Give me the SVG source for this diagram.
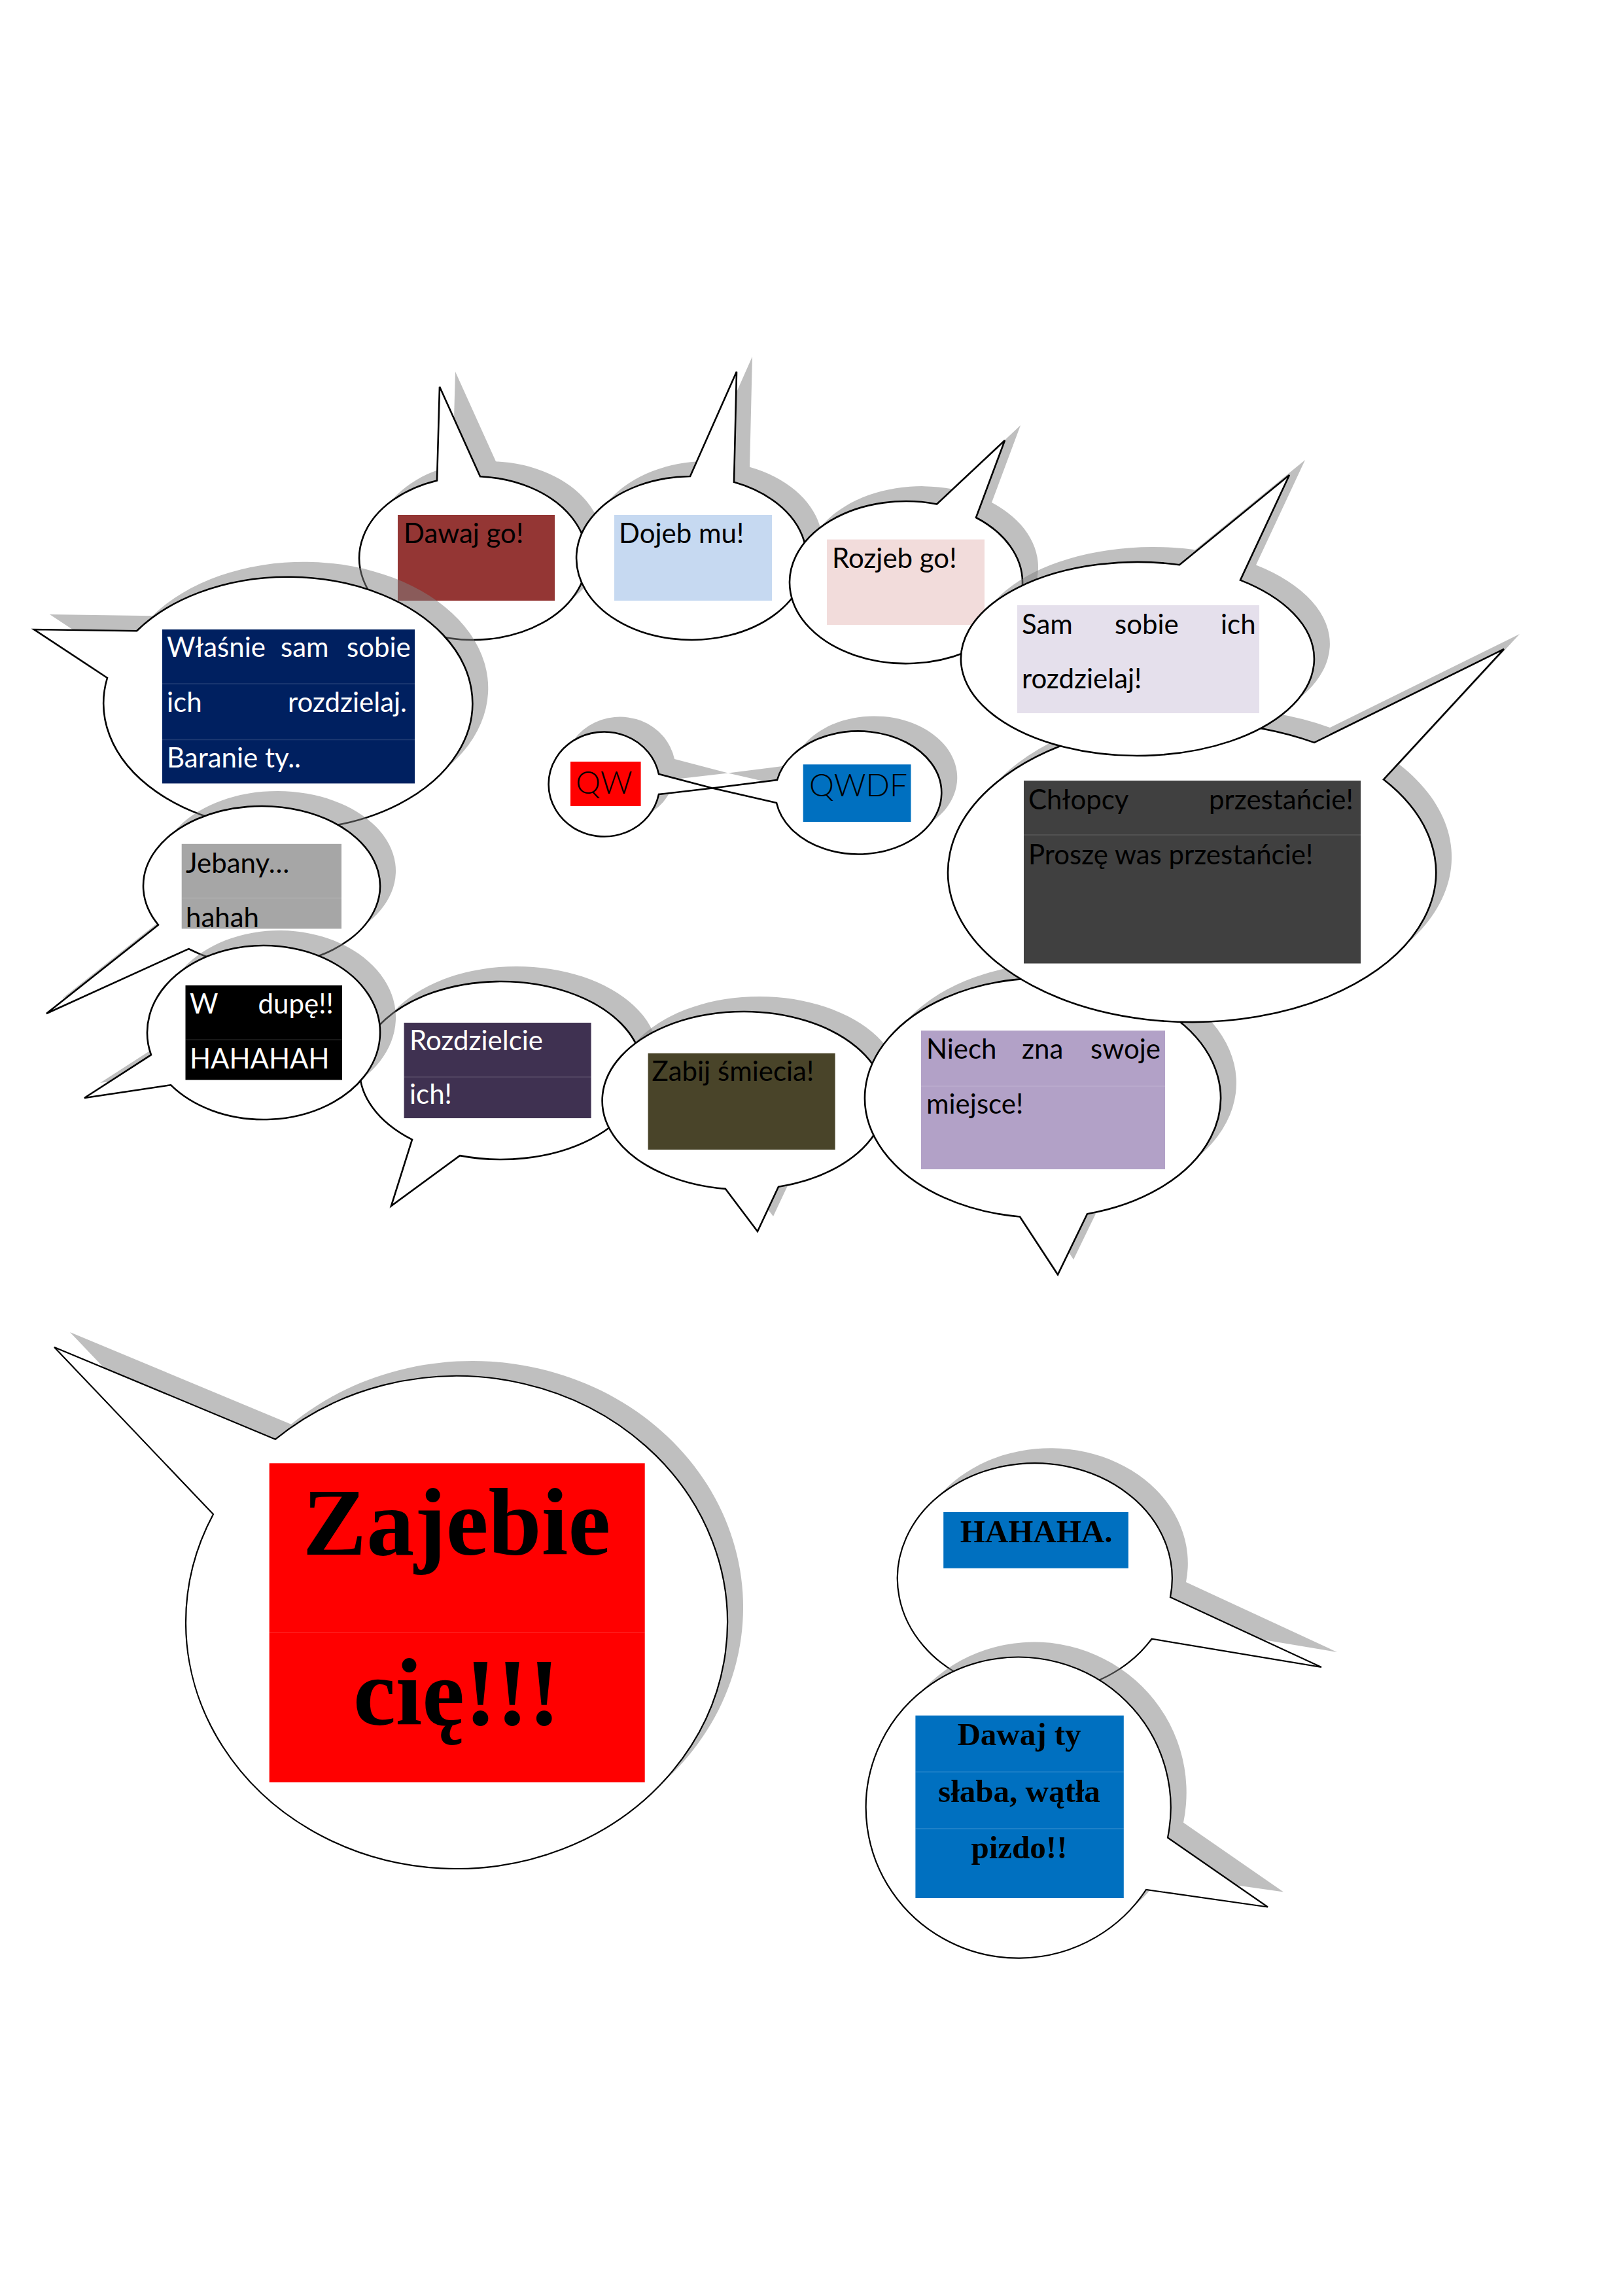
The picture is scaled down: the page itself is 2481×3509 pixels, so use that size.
<svg xmlns="http://www.w3.org/2000/svg" width="2481" height="3509" viewBox="0 0 2481 3509">
<style>
.sh{fill:#808080;fill-opacity:0.5;stroke:none}
.bd{fill:#ffffff;stroke:#000000;stroke-width:2.6;stroke-linejoin:miter}
.bd2{fill:#ffffff;stroke:#000000;stroke-width:2.2;stroke-linejoin:miter}
.t{font-family:Lato,Carlito,"Open Sans",sans-serif;font-size:42px;fill:#000000}
.w{fill:#ffffff}
.q{font-family:Lato,"Open Sans",sans-serif;font-weight:300;font-size:48px;fill:#000000}
.s{font-family:"Liberation Serif","Times New Roman",serif;font-weight:bold;fill:#000000;text-anchor:middle}
.seam{stroke:#ffffff;stroke-opacity:0.13;stroke-width:1.5}
</style>
<defs>
<path id="pA" d="M668,734.4 L672,591 L734,728.2 A174,125 0 1 1 668,734.4 Z"/>
<path id="pC" d="M1055,728 L1126,568 L1122,736.8 A176,125 0 1 1 1055,728 Z"/>
<path id="pD" d="M1432,770.5 L1536,673 L1492,791 A178,124 0 1 1 1432,770.5 Z"/>
<path id="pE" d="M1803,863.2 L1971,726 L1896,886.6 A270,148 0 1 1 1803,863.2 Z"/>
<path id="pF" d="M2009,1134.9 L2299,992 L2115,1191.3 A373,229 0 1 1 2009,1134.9 Z"/>
<path id="pG" d="M1662,1855.2 L1617,1948 L1559,1859.5 A272,183 0 1 1 1662,1855.2 Z"/>
<path id="pH" d="M1190,1813.8 L1158,1882 L1109,1816.9 A216,136 0 1 1 1190,1813.8 Z"/>
<path id="pI" d="M703,1766.1 L598,1843 L630,1741.7 A216,136 0 1 1 703,1766.1 Z"/>
<path id="pJ" d="M261,1658.2 L129,1678 L231,1612.2 A178,133 0 1 1 261,1658.2 Z"/>
<path id="pK" d="M288.5,1450.1 L71,1549 L242,1413.5 A181,122 0 1 1 288.5,1450.1 Z"/>
<path id="pB" d="M164,1036 L52,962 L209,964.3 A282,193 0 1 1 164,1036 Z"/>
<path id="pQ1" d="M1007,1183 L1089,1204.5 L1007,1214 A85,80 0 1 1 1007,1183 Z"/>
<path id="pQ2" d="M1187,1227 L1089,1204.5 L1188,1192 A127,94 0 1 1 1187,1227 Z"/>
<path id="pZ" d="M326,2314.3 L83,2059 L421,2199.7 A414,376.5 0 1 1 326,2314.3 Z"/>
<path id="pH2" d="M1789,2441 L2020,2548 L1760.6,2504.6 A210,176 0 1 1 1789,2441 Z"/>
<path id="pDT" d="M1785,2808.5 L1938,2914.5 L1752,2888 A233,230 0 1 1 1785,2808.5 Z"/>
</defs>
<rect x="0" y="0" width="2481" height="3509" fill="#ffffff"/>

<g id="bubble-dawaj-go">
<use href="#pA" class="sh" transform="translate(24,-23)"/>
<use href="#pA" class="bd"/>
<rect x="608" y="787" width="240" height="131" fill="#943634"/>
<text class="t" x="617" y="830">Dawaj go!</text>
</g>

<g id="bubble-dojeb-mu">
<use href="#pC" class="sh" transform="translate(24,-23)"/>
<use href="#pC" class="bd"/>
<rect x="939" y="787" width="241" height="131" fill="#c6d9f1"/>
<text class="t" x="946" y="830">Dojeb mu!</text>
</g>

<g id="bubble-rozjeb-go">
<use href="#pD" class="sh" transform="translate(24,-23)"/>
<use href="#pD" class="bd"/>
<rect x="1264" y="824.5" width="241" height="130.5" fill="#f2dcdb"/>
<text class="t" x="1272" y="868">Rozjeb go!</text>
</g>

<g id="bubble-wlasnie">
<use href="#pB" class="sh" transform="translate(24,-23)"/>
<use href="#pB" class="bd"/>
<rect x="248" y="962" width="386" height="235.4" fill="#002060"/>
<line class="seam" x1="248" y1="1045" x2="634" y2="1045"/>
<line class="seam" x1="248" y1="1130.6" x2="634" y2="1130.6"/>
<text class="t w" y="1004"><tspan x="255">Właśnie </tspan><tspan x="429">sam </tspan><tspan x="530">sobie</tspan></text>
<text class="t w" y="1088"><tspan x="255">ich </tspan><tspan x="440">rozdzielaj.</tspan></text>
<text class="t w" x="255" y="1172.5">Baranie ty..</text>
</g>

<g id="bubble-jebany">
<use href="#pK" class="sh" transform="translate(24,-23)"/>
<use href="#pK" class="bd"/>
<rect x="277.7" y="1289.8" width="244.3" height="129.6" fill="#a6a6a6"/>
<line class="seam" x1="277.7" y1="1372.5" x2="522" y2="1372.5"/>
<text class="t" x="284" y="1333.7">Jebany…</text>
<text class="t" x="284" y="1416.8">hahah</text>
</g>

<g id="bubble-rozdzielcie">
<use href="#pI" class="sh" transform="translate(24,-23)"/>
<use href="#pI" class="bd"/>
<rect x="617.6" y="1563" width="286" height="146" fill="#3f3151"/>
<line class="seam" x1="617.6" y1="1646" x2="903.6" y2="1646"/>
<text class="t w" x="626" y="1604.6">Rozdzielcie</text>
<text class="t w" x="626" y="1687">ich!</text>
</g>

<g id="bubble-w-dupe">
<use href="#pJ" class="sh" transform="translate(24,-23)"/>
<use href="#pJ" class="bd"/>
<rect x="283.5" y="1506" width="239.5" height="144.5" fill="#000000"/>
<line class="seam" x1="283.5" y1="1589" x2="523" y2="1589"/>
<text class="t w" y="1548.5"><tspan x="290">W </tspan><tspan x="394.6">dupę!!</tspan></text>
<text class="t w" x="290" y="1632.7">HAHAHAH</text>
</g>

<g id="bubble-zabij">
<use href="#pH" class="sh" transform="translate(24,-23)"/>
<use href="#pH" class="bd"/>
<rect x="990.6" y="1609.7" width="286" height="147.3" fill="#494429"/>
<text class="t" x="996.5" y="1651.5">Zabij śmiecia!</text>
</g>

<g id="bubble-niech">
<use href="#pG" class="sh" transform="translate(24,-23)"/>
<use href="#pG" class="bd"/>
<rect x="1408" y="1575" width="373" height="212" fill="#b2a1c7"/>
<line class="seam" x1="1408" y1="1660" x2="1781" y2="1660"/>
<text class="t" y="1618"><tspan x="1416">Niech </tspan><tspan x="1562">zna </tspan><tspan x="1667">swoje</tspan></text>
<text class="t" x="1416" y="1702">miejsce!</text>
</g>

<g id="bubble-chlopcy">
<use href="#pF" class="sh" transform="translate(24,-23)"/>
<use href="#pF" class="bd"/>
<rect x="1565" y="1193" width="515" height="279.5" fill="#404040"/>
<line class="seam" x1="1565" y1="1276" x2="2080" y2="1276"/>
<text class="t" y="1236.5"><tspan x="1572">Chłopcy </tspan><tspan x="1848">przestańcie!</tspan></text>
<text class="t" x="1572" y="1320.7">Proszę was przestańcie!</text>
</g>

<g id="bubble-sam-sobie">
<use href="#pE" class="sh" transform="translate(24,-23)"/>
<use href="#pE" class="bd"/>
<rect x="1555" y="925" width="370" height="165" fill="#e5e0ec"/>
<text class="t" y="968.6"><tspan x="1562">Sam </tspan><tspan x="1704">sobie </tspan><tspan x="1866">ich</tspan></text>
<text class="t" x="1562" y="1051.6">rozdzielaj!</text>
</g>

<g id="bubble-qw">
<use href="#pQ1" class="sh" transform="translate(24,-23)"/>
<use href="#pQ1" class="bd"/>
<rect x="872" y="1164" width="107.6" height="68" fill="#ff0000"/>
<text class="q" x="880" y="1212.7">QW</text>
</g>

<g id="bubble-qwdf">
<use href="#pQ2" class="sh" transform="translate(24,-23)"/>
<use href="#pQ2" class="bd"/>
<rect x="1227.7" y="1168.3" width="164.8" height="87.7" fill="#0070c0"/>
<text class="q" x="1237" y="1216.7">QWDF</text>
</g>

<g id="bubble-zajebie">
<use href="#pZ" class="sh" transform="translate(24,-23)"/>
<use href="#pZ" class="bd2"/>
<rect x="411.7" y="2236.3" width="574" height="487.7" fill="#ff0000"/>
<line class="seam" x1="411.7" y1="2495" x2="985.7" y2="2495"/>
<text class="s" x="698" y="2375.7" font-size="146">Zajebie</text>
<text class="s" x="698" y="2636.2" font-size="146">cię!!!</text>
</g>

<g id="bubble-hahaha">
<use href="#pH2" class="sh" transform="translate(24,-23)"/>
<use href="#pH2" class="bd2"/>
<rect x="1442.2" y="2311" width="282.7" height="85.8" fill="#0070c0"/>
<text class="s" x="1584" y="2357.2" font-size="49">HAHAHA.</text>
</g>

<g id="bubble-dawaj-ty">
<use href="#pDT" class="sh" transform="translate(24,-23)"/>
<use href="#pDT" class="bd2"/>
<rect x="1399.4" y="2621.8" width="318.4" height="279.2" fill="#0070c0"/>
<line class="seam" x1="1399.4" y1="2708" x2="1717.8" y2="2708"/>
<line class="seam" x1="1399.4" y1="2794.7" x2="1717.8" y2="2794.7"/>
<text class="s" x="1558" y="2667.3" font-size="49">Dawaj ty</text>
<text class="s" x="1558" y="2754" font-size="49">słaba, wątła</text>
<text class="s" x="1558" y="2839.7" font-size="49">pizdo!!</text>
</g>

<g id="connectors"></g>
</svg>
